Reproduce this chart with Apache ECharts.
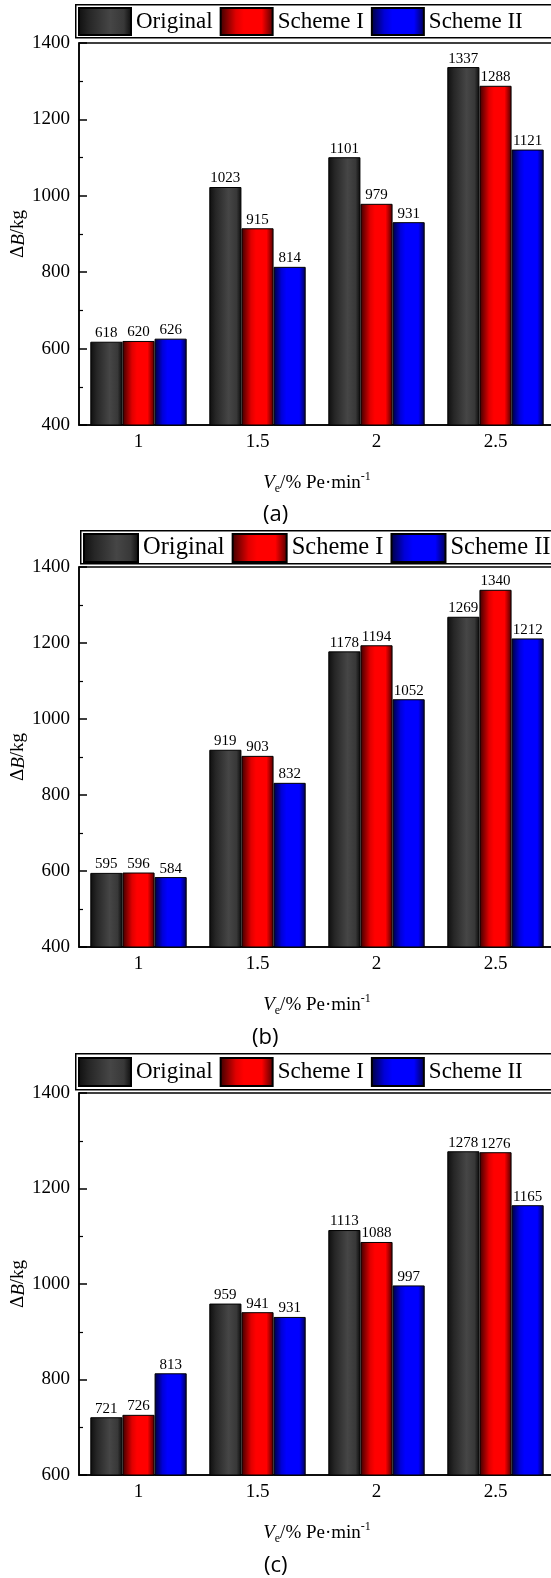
<!DOCTYPE html>
<html>
<head>
<meta charset="utf-8">
<script src="https://cdn.jsdelivr.net/npm/echarts@6/dist/echarts.min.js"></script>
<style>
html,body{margin:0;padding:0;background:#fff;}
#chart{width:551px;height:1578px;}
</style>
</head>
<body>
<div id="chart"></div>
<script>
const categories = ['1', '1.5', '2', '2.5'];
const seriesNames = ['Original', 'Scheme I', 'Scheme II'];

const aOriginal = [618, 1023, 1101, 1337];
const aSchemeI  = [620, 915, 979, 1288];
const aSchemeII = [626, 814, 931, 1121];

const bOriginal = [595, 919, 1178, 1269];
const bSchemeI  = [596, 903, 1194, 1340];
const bSchemeII = [584, 832, 1052, 1212];

const cOriginal = [721, 959, 1113, 1278];
const cSchemeI  = [726, 941, 1088, 1276];
const cSchemeII = [813, 931, 997, 1165];

const panelLabels = ['(a)', '(b)', '(c)'];
const yMins = [400, 400, 600];
const yMax = 1400;
const yInterval = 200;

const SERIF = '"Liberation Serif", "DejaVu Serif", serif';
const SANS = '"Open Sans", "Noto Sans", sans-serif';

function grad(stops) {
  return new echarts.graphic.LinearGradient(0, 0, 1, 0, stops.map(s => ({offset: s[0], color: s[1]})));
}
const fills = [
  grad([[0, '#0e0e0e'], [0.2, '#262626'], [0.6, '#464646'], [0.85, '#383838'], [1, '#0a0a0a']]),
  grad([[0, '#3a0000'], [0.3, '#e00000'], [0.45, '#ff0000'], [0.78, '#ff0000'], [1, '#4a0000']]),
  grad([[0, '#00003a'], [0.25, '#0000d8'], [0.4, '#0000ff'], [0.8, '#0000ff'], [1, '#00004a']])
];

const panels = [
  {data: [aOriginal, aSchemeI, aSchemeII], gridTop: 43, gridH: 382, boxLeft: 75, boxTop: 4, boxH: 33, legFont: 23, icoW: 52, icoH: 27, gap: 7, label: panelLabels[0], labX: 279, labY: 514},
  {data: [bOriginal, bSchemeI, bSchemeII], gridTop: 567, gridH: 380, boxLeft: 80, boxTop: 530, boxH: 33, legFont: 24.5, icoW: 54, icoH: 28, gap: 7, label: panelLabels[1], labX: 268, labY: 1037},
  {data: [cOriginal, cSchemeI, cSchemeII], gridTop: 1093, gridH: 382, boxLeft: 75, boxTop: 1053, boxH: 36, legFont: 23, icoW: 52, icoH: 28, gap: 7, label: panelLabels[2], labX: 280, labY: 1565}
];

const txt = (size, extra) => Object.assign({fontSize: size, fontFamily: SERIF, color: '#000'}, extra || {});

const grid = [], xAxis = [], yAxis = [], series = [], legend = [], graphic = [];

panels.forEach((p, i) => {
  grid.push({left: 79, width: 476, top: p.gridTop, height: p.gridH, show: true, borderColor: '#000', borderWidth: 1.5, backgroundColor: 'transparent', containLabel: false, outerBoundsMode: 'none'});
  xAxis.push({
    type: 'category', gridIndex: i, data: categories,
    axisLine: {show: true, lineStyle: {color: '#000', width: 1.5}},
    axisTick: {show: false},
    axisLabel: {color: '#000', fontSize: 19, fontFamily: SERIF, margin: 8,
      formatter: v => '{t|' + v + '}', rich: {t: txt(19)}},
    name: '{v|V}{e|e}{n|/% Pe·min}{s|-1}',
    nameLocation: 'middle', nameGap: 46, nameMoveOverlap: false,
    nameTextStyle: {
      color: '#000', fontFamily: SERIF, fontSize: 19, lineHeight: 24,
      rich: {
        v: txt(19, {fontStyle: 'italic', lineHeight: 24}),
        e: txt(12, {verticalAlign: 'bottom', lineHeight: 12}),
        n: txt(19, {lineHeight: 24}),
        s: txt(12, {verticalAlign: 'top', lineHeight: 12})
      }
    }
  });
  yAxis.push({
    type: 'value', gridIndex: i, min: yMins[i], max: yMax, interval: yInterval,
    axisLine: {show: true, lineStyle: {color: '#000', width: 1.5}},
    axisTick: {show: true, inside: true, length: 8, lineStyle: {color: '#000', width: 1.5}},
    minorTick: {show: true, splitNumber: 2, length: 4, lineStyle: {color: '#000', width: 1.2}},
    splitLine: {show: false},
    axisLabel: {color: '#000', fontSize: 19, fontFamily: SERIF, margin: 9,
      formatter: v => '{t|' + v + '}', rich: {t: txt(19)}},
    name: '{d|Δ}{b|B}{k|/kg}',
    nameLocation: 'middle', nameRotate: 90, nameGap: 51, nameMoveOverlap: false,
    nameTextStyle: {
      color: '#000', fontFamily: SERIF, fontSize: 19,
      rich: {
        d: txt(19),
        b: txt(19, {fontStyle: 'italic'}),
        k: txt(19)
      }
    }
  });
  p.data.forEach((arr, k) => {
    series.push({
      name: seriesNames[k], type: 'bar', xAxisIndex: i, yAxisIndex: i,
      data: arr, barGap: '0%', barCategoryGap: '19%',
      itemStyle: {color: fills[k], borderColor: '#000', borderWidth: 1},
      label: {show: true, position: 'top', distance: 1, color: '#000', fontSize: 15, fontFamily: SERIF}
    });
  });
  legend.push({
    left: p.boxLeft + 3, top: p.boxTop + Math.round((p.boxH - p.icoH) / 2),
    orient: 'horizontal',
    data: seriesNames.map(n => ({name: n, icon: 'rect'})),
    itemWidth: p.icoW, itemHeight: p.icoH, itemGap: p.gap,
    padding: 0,
    selectedMode: false,
    textStyle: {color: '#000', fontSize: p.legFont, fontFamily: SERIF}
  });
  graphic.push({
    type: 'rect', left: p.boxLeft, top: p.boxTop, z: 1,
    shape: {width: 500, height: p.boxH},
    style: {fill: '#fff', stroke: '#000', lineWidth: 1.5}
  });
  graphic.push({
    type: 'text', left: p.labX - 16, top: p.labY - 10,
    style: {text: p.label, fill: '#000', fontSize: 22, fontFamily: SANS}
  });
});

const chart = echarts.init(document.getElementById('chart'), null, {renderer: 'canvas'});
chart.setOption({
  animation: false,
  backgroundColor: '#fff',
  textStyle: {fontFamily: SERIF},
  grid, xAxis, yAxis, series, legend, graphic
});
</script>
</body>
</html>
